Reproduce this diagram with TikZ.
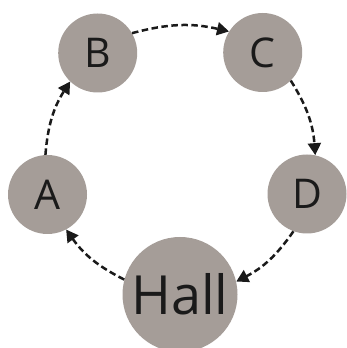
\documentclass[tikz,border=0pt]{standalone}
\usepackage{fontspec}
\setmainfont{Open Sans}
\usetikzlibrary{arrows.meta}
\definecolor{ball}{HTML}{A59D98}
\definecolor{ink}{HTML}{1A1A1A}
\tikzset{
  ballnode/.style={circle,fill=ball,draw=none,inner sep=0pt,minimum size=79pt,text=ink,font=\fontsize{41}{44}\selectfont},
  hallnode/.style={ballnode,minimum size=115pt,font=\fontsize{54}{58}\selectfont},
  flow/.style={draw=ink,line width=2.5pt,dash pattern=on 6.5pt off 3.5pt,
    -{Triangle[length=12pt,width=13pt]},bend left=14}
}
\begin{document}
\begin{tikzpicture}[x=1pt,y=1pt]
\useasboundingbox (0,0) rectangle (347,348);
\node[ballnode] (B) at (97.7,295) {B};
\node[ballnode] (C) at (262.7,295.5) {C};
\node[ballnode] (A) at (47.5,153.5) {A};
\node[ballnode] (D) at (307,154) {D};
\node[hallnode] (H) at (180,53.5) {Hall};
\draw[flow] (B.30) to (C.148);
\draw[flow] (C.-45) to (D.78);
\draw[flow] (D.-110) to (H.13);
\draw[flow] (H.165) to (A.-62);
\draw[flow] (A.93) to (B.-134);
\end{tikzpicture}
\end{document}
